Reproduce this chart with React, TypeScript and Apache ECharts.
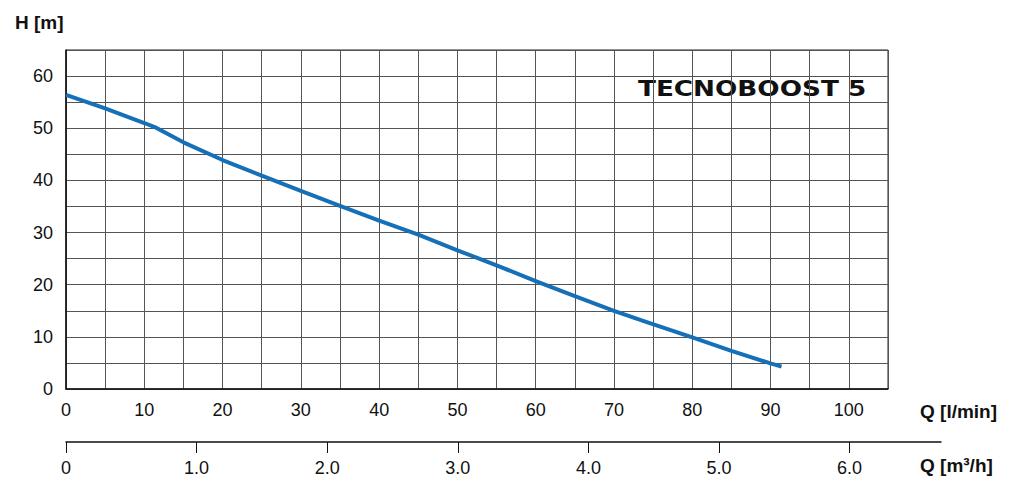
import React, { useEffect, useRef } from "react";
import * as echarts from "echarts";

const flowLmin = [0, 5, 10, 11.5, 15, 20, 25, 30, 35, 40, 45, 50, 55, 60, 65, 70, 74, 80, 85, 90, 91.4];
const headM = [56.4, 53.8, 51.0, 50.1, 47.3, 43.9, 40.9, 38.0, 35.1, 32.3, 29.6, 26.6, 23.7, 20.7, 17.8, 15.0, 12.9, 9.9, 7.3, 4.9, 4.3];
const m3hTicks = [0, 1, 2, 3, 4, 5, 6];
const title = "TECNOBOOST 5";
const yName = "H [m]";
const xName = "Q [l/min]";
const x2Name = "Q [m³/h]";

const FONT = "'Liberation Sans', Arial, sans-serif";

export default function App() {
  const ref = useRef<HTMLDivElement>(null);
  useEffect(() => {
    if (!ref.current) return;
    const chart = echarts.init(ref.current, undefined, { renderer: "svg" });
    chart.setOption({
      animation: false,
      grid: [
        { left: 66, top: 50, width: 822, height: 339, show: true, borderColor: "#222", borderWidth: 1, backgroundColor: "transparent" },
        { left: 66, top: 441, width: 875, height: 1 },
      ],
      xAxis: [
        {
          gridIndex: 0,
          type: "value",
          min: 0,
          max: 105,
          interval: 5,
          axisLine: { show: true, lineStyle: { color: "#111", width: 1.5 } },
          axisTick: { show: false },
          splitLine: { show: true, lineStyle: { color: "#555", width: 1 } },
          axisLabel: {
            margin: 12,
            fontFamily: FONT,
            fontSize: 18,
            color: "#111",
            formatter: (v: number) => (v % 10 === 0 && v <= 100 ? String(v) : ""),
          },
        },
        {
          gridIndex: 1,
          type: "value",
          min: 0,
          max: 875 / 130.6,
          axisLine: { show: true, onZero: false, lineStyle: { color: "#111", width: 1.5 } },
          axisTick: { show: true, length: 11, customValues: m3hTicks, lineStyle: { color: "#111", width: 1 } },
          splitLine: { show: false },
          axisLabel: {
            margin: 17,
            fontFamily: FONT,
            fontSize: 18,
            color: "#111",
            customValues: m3hTicks,
            formatter: (v: number) => (v === 0 ? "0" : v.toFixed(1)),
          },
        },
      ],
      yAxis: [
        {
          gridIndex: 0,
          type: "value",
          min: 0,
          max: 65,
          interval: 5,
          axisLine: { show: true, lineStyle: { color: "#111", width: 1.5 } },
          axisTick: { show: false },
          splitLine: { show: true, lineStyle: { color: "#555", width: 1 } },
          axisLabel: {
            margin: 13,
            fontFamily: FONT,
            fontSize: 18,
            color: "#111",
            formatter: (v: number) => (v % 10 === 0 ? String(v) : ""),
          },
        },
        {
          gridIndex: 1,
          type: "value",
          show: false,
        },
      ],
      series: [
        {
          type: "line",
          xAxisIndex: 0,
          yAxisIndex: 0,
          data: flowLmin.map((q, i) => [q, headM[i]]),
          smooth: false,
          showSymbol: false,
          lineStyle: { color: "#1570b7", width: 4, cap: "butt", join: "round" },
        },
      ],
      graphic: [
        {
          type: "text",
          left: 15,
          top: 13,
          style: { text: yName, font: `bold 19px ${FONT}`, fill: "#111" },
        },
        {
          type: "text",
          left: 920,
          top: 402,
          style: { text: xName, font: `bold 19px ${FONT}`, fill: "#111" },
        },
        {
          type: "text",
          left: 920,
          top: 456,
          style: { text: x2Name, font: `bold 19px ${FONT}`, fill: "#111" },
        },
        {
          type: "text",
          x: 638,
          y: 78,
          scaleX: 1.25,
          style: { text: title, font: `900 21px 'DejaVu Sans', sans-serif`, fill: "#111" },
        },
      ],
    });
    return () => chart.dispose();
  }, []);
  return <div ref={ref} style={{ width: 1024, height: 495, position: "absolute", left: 0, top: 0, background: "#fff" }} />;
}
